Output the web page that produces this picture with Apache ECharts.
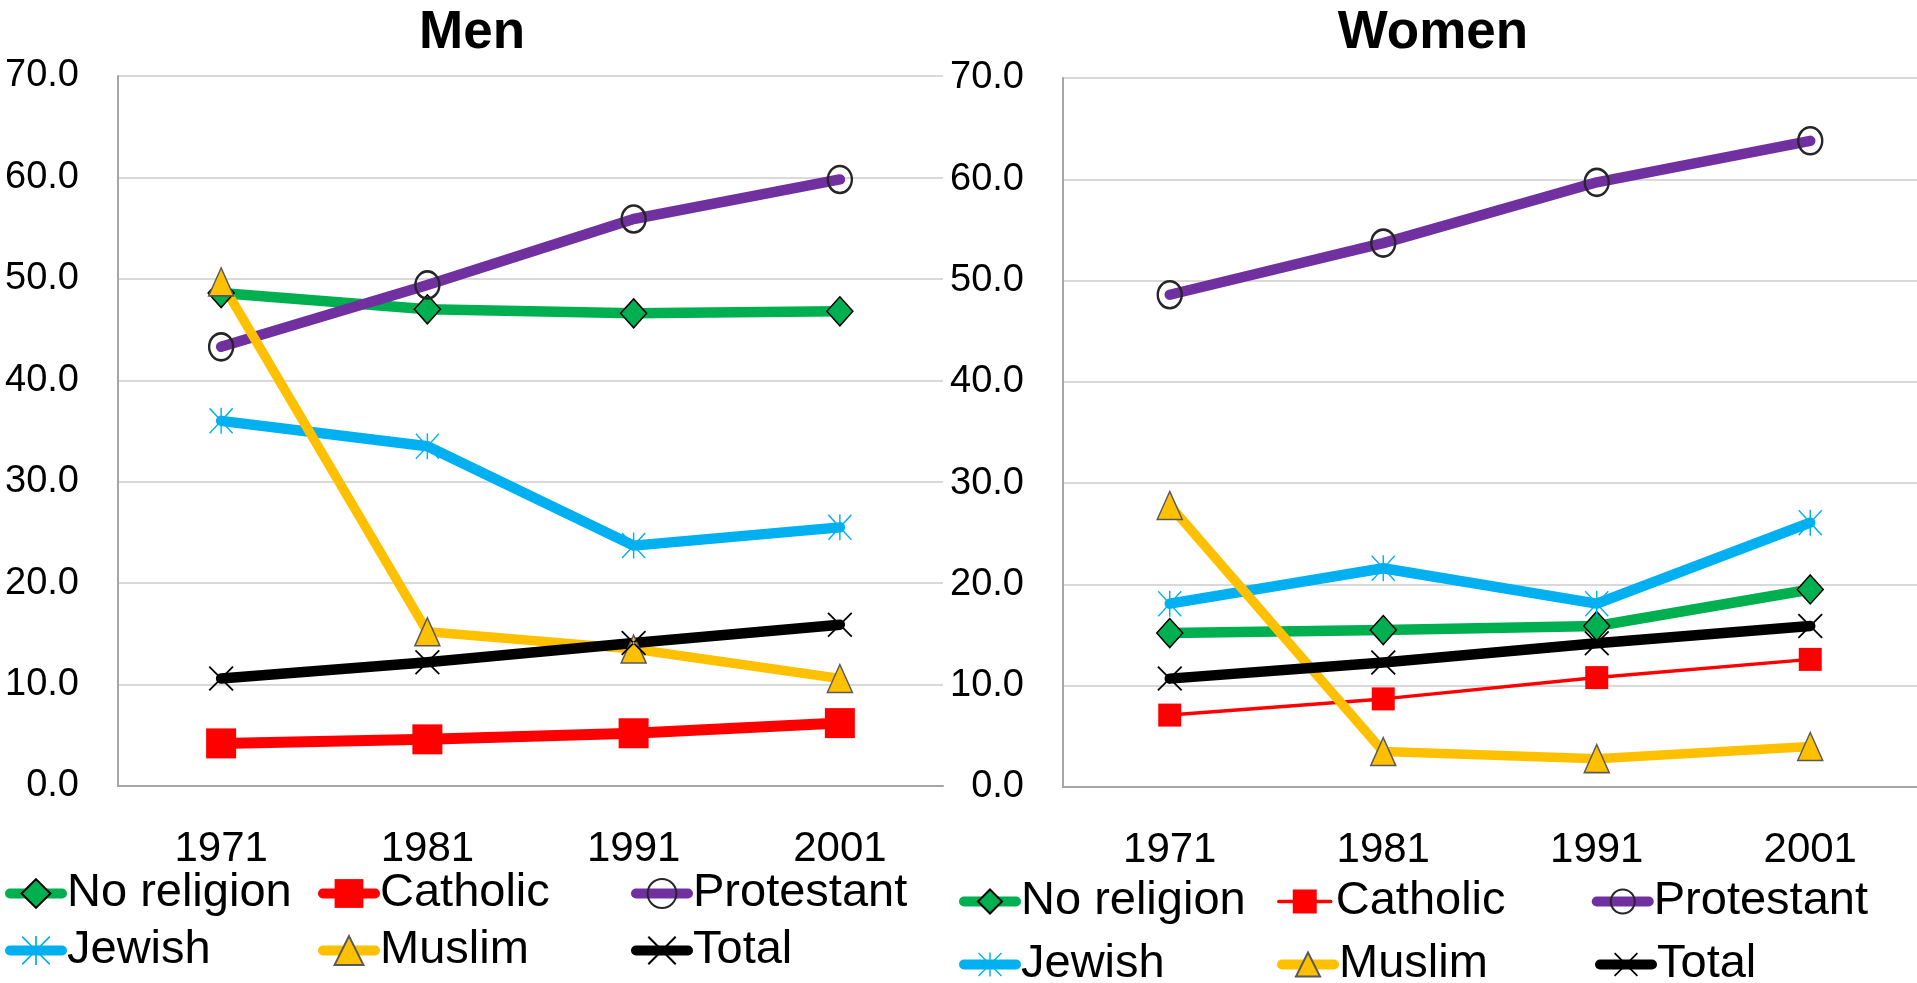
<!DOCTYPE html>
<html>
<head>
<meta charset="utf-8">
<title>Men / Women by religion</title>
<script src="https://cdn.jsdelivr.net/npm/echarts@6/dist/echarts.min.js"></script>
<style>
    html, body { margin: 0; padding: 0; background: #fff; }
    #main { width: 1917px; height: 983px; }
</style>
</head>
<body>
<div id="main"></div>
<script>
    // 数据
    var years = ['1971', '1981', '1991', '2001'];
    var yTicks = [0, 10, 20, 30, 40, 50, 60, 70];

    var menNoReligion = [48.6, 47.0, 46.6, 46.8];
    var menCatholic = [4.2, 4.6, 5.2, 6.2];
    var menProtestant = [43.3, 49.4, 55.9, 59.8];
    var menJewish = [36.0, 33.5, 23.7, 25.5];
    var menMuslim = [49.7, 15.2, 13.5, 10.6];
    var menTotal = [10.6, 12.2, 14.1, 15.9];

    var womenNoReligion = [15.2, 15.5, 15.9, 19.5];
    var womenCatholic = [7.1, 8.7, 10.8, 12.6];
    var womenProtestant = [48.6, 53.7, 59.7, 63.8];
    var womenJewish = [18.1, 21.6, 18.1, 26.1];
    var womenMuslim = [27.8, 3.5, 2.8, 4.0];
    var womenTotal = [10.7, 12.3, 14.2, 15.9];

    var names = ['No religion', 'Catholic', 'Protestant', 'Jewish', 'Muslim', 'Total'];
    var W = ' (W)'; // suffix so the women legend gets its own icons

    var font = 'Liberation Sans, Arial, sans-serif';
    var starPath = 'path://M0,4 L4,0 L100,96 L96,100 Z M100,4 L96,0 L0,96 L4,100 Z M47,0 L53,0 L53,100 L47,100 Z';
    var crossPath = 'path://M0,5 L5,0 L100,95 L95,100 Z M100,5 L95,0 L0,95 L5,100 Z';

    var myChart = echarts.init(document.getElementById('main'));

    function makeLine(name, data, idx, color, width, symbol, size, itemStyle) {
        return {
            name: name,
            type: 'line',
            xAxisIndex: idx,
            yAxisIndex: idx,
            data: data,
            symbol: symbol,
            symbolSize: size,
            symbolKeepAspect: false,
            lineStyle: { color: color, width: width, cap: 'round', join: 'round' },
            itemStyle: itemStyle,
            emphasis: { disabled: true },
            animation: false
        };
    }

    function seriesFor(idx, sfx, d, catWidth, catSize) {
        return [
            makeLine(names[0] + sfx, d[0], idx, '#00B050', 10.5, 'diamond', [26, 29],
                { color: '#00B050', borderColor: '#000', borderWidth: 1.5 }),
            makeLine(names[1] + sfx, d[1], idx, '#FF0000', catWidth, 'rect', catSize,
                { color: '#FF0000', borderWidth: 0 }),
            makeLine(names[2] + sfx, d[2], idx, '#7030A0', 10.5, 'circle', [24, 27],
                { color: 'rgba(0,0,0,0)', borderColor: '#262626', borderWidth: 2.5 }),
            makeLine(names[3] + sfx, d[3], idx, '#00B0F0', 10.5, starPath, [24, 26],
                { color: '#00B0F0', borderWidth: 0 }),
            makeLine(names[4] + sfx, d[4], idx, '#FFC000', 9.5, 'triangle', [25, 28],
                { color: '#FFC000', borderColor: '#595959', borderWidth: 1.5 }),
            makeLine(names[5] + sfx, d[5], idx, '#000000', 10.5, crossPath, [25, 25],
                { color: '#000000', borderWidth: 0 })
        ];
    }

    function xAxisFor(idx) {
        return {
            type: 'category',
            gridIndex: idx,
            data: years,
            boundaryGap: true,
            axisTick: { show: false },
            axisLine: { lineStyle: { color: '#A6A6A6', width: 2 } },
            axisLabel: { color: '#000', fontSize: 42, fontFamily: font, margin: 42 }
        };
    }

    function yAxisFor(idx) {
        return {
            type: 'value',
            gridIndex: idx,
            min: yTicks[0],
            max: yTicks[yTicks.length - 1],
            interval: 10,
            axisLine: { show: true, lineStyle: { color: '#A6A6A6', width: 2 } },
            axisTick: { show: false },
            splitLine: { lineStyle: { color: '#D9D9D9', width: 2 } },
            axisLabel: {
                color: '#000', fontSize: 38, fontFamily: font, margin: 39,
                formatter: function (v) { return v.toFixed(1); }
            }
        };
    }

    // legend icons: thick line + marker, women Catholic keeps its thin line
    // (round caps add ~5px on each side of itemWidth)
    function legendFor(left, top, sfx, lineH, iconH, catWidth, textW) {
        return {
            left: left,
            top: top,
            width: 980,
            padding: 0,
            itemGap: 10,
            itemWidth: 52,
            itemHeight: iconH,
            data: names.map(function (n) {
                return { name: n + sfx, lineStyle: { width: n === 'Catholic' ? catWidth : 10, cap: 'round' } };
            }),
            formatter: function (n) { return n.replace(W, ''); },
            textStyle: { color: '#000', fontSize: 47, fontFamily: font, width: textW, lineHeight: lineH },
            selectedMode: false
        };
    }

    var option = {
        backgroundColor: '#fff',
        grid: [
            { left: 118, right: 974, top: 76, bottom: 197 },
            { left: 1063, right: 0, top: 78, bottom: 196 }
        ],
        graphic: [
            { type: 'text', x: 472, y: 33, style: { text: 'Men', fontSize: 53, fontWeight: 'bold', fontFamily: font, fill: '#000', align: 'center', verticalAlign: 'middle' } },
            { type: 'text', x: 1433, y: 33, style: { text: 'Women', fontSize: 53, fontWeight: 'bold', fontFamily: font, fill: '#000', align: 'center', verticalAlign: 'middle' } }
        ],
        legend: [
            legendFor(5, 870, '', 47, 36, 10, 241),
            legendFor(959, 875, W, 53, 30, 3.5, 246)
        ],
        xAxis: [xAxisFor(0), xAxisFor(1)],
        yAxis: [yAxisFor(0), yAxisFor(1)],
        series: seriesFor(0, '', [menNoReligion, menCatholic, menProtestant, menJewish, menMuslim, menTotal], 11, [30, 30])
            .concat(seriesFor(1, W, [womenNoReligion, womenCatholic, womenProtestant, womenJewish, womenMuslim, womenTotal], 3.5, [23, 23]))
    };

    myChart.setOption(option);
</script>
</body>
</html>
